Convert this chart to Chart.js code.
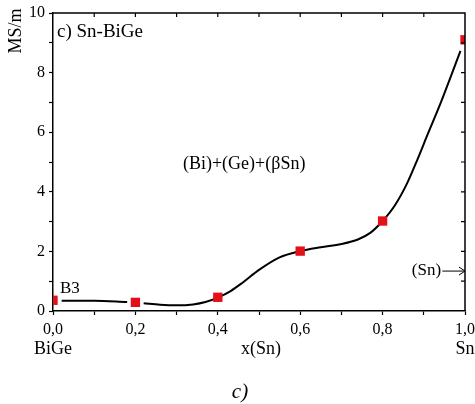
<!DOCTYPE html>
<html>
<head>
<meta charset="utf-8">
<script src="https://cdn.jsdelivr.net/npm/chart.js@4.4.1/dist/chart.umd.min.js"></script>
<style>
  html, body { margin: 0; padding: 0; background: #fff; }
  #wrap { width: 475px; height: 404px; position: relative; }
</style>
</head>
<body>
<div id="wrap"><canvas id="c"></canvas></div>
<script>
// измерени точки (червени маркери)
const markX = [0.0, 0.2, 0.4, 0.6, 0.8, 1.0];
const markY = [0.36, 0.29, 0.46, 2.01, 3.02, 9.1];

// плавната крива, отчетена от картинката (null = прекъсване при маркера)
const curveX = [0.021, 0.1, 0.18, 0.2, 0.22, 0.26, 0.30, 0.34, 0.37, 0.40, 0.43, 0.46, 0.50, 0.55, 0.60, 0.65, 0.70, 0.74, 0.77, 0.80, 0.83, 0.86, 0.885, 0.91, 0.94, 0.965, 0.989];
const curveY = [0.34, 0.34, 0.30, null, 0.26, 0.21, 0.19, 0.22, 0.30, 0.45, 0.66, 0.95, 1.38, 1.80, 2.01, 2.14, 2.25, 2.40, 2.62, 3.02, 3.55, 4.30, 5.10, 5.95, 6.95, 7.85, 8.73];

const xTicks = [0, 0.2, 0.4, 0.6, 0.8, 1.0];
const yTicks = [0, 2, 4, 6, 8, 10];

const SERIF = '"Liberation Serif", "Times New Roman", serif';

const fmt = v => v.toFixed(1).replace('.', ',');
const isMajor = (v, list) => list.some(t => Math.abs(t - v) < 1e-6);

// огледални чертички отгоре/отдясно + рамка + надписи
const extras = {
  id: 'extras',
  afterDraw(chart) {
    const { ctx, chartArea: a, scales: { x, y } } = chart;
    ctx.save();
    ctx.strokeStyle = '#000';
    ctx.lineWidth = 1.5;
    ctx.beginPath();
    ctx.moveTo(a.left, a.top); ctx.lineTo(a.right, a.top); ctx.lineTo(a.right, a.bottom);
    ctx.stroke();

    ctx.lineWidth = 1.2;
    ctx.beginPath();
    for (let i = 1; i < 10; i++) {
      const px = x.getPixelForValue(i / 10);
      ctx.moveTo(px, a.top); ctx.lineTo(px, a.top + 4);
      const py = y.getPixelForValue(i);
      ctx.moveTo(a.right, py); ctx.lineTo(a.right - 4, py);
    }
    ctx.stroke();

    ctx.fillStyle = '#000';
    ctx.textBaseline = 'alphabetic';
    ctx.font = '19px ' + SERIF;

    ctx.textAlign = 'left';
    ctx.fillText('c) Sn-BiGe', a.left + 4, a.top + 24);

    ctx.font = '18px ' + SERIF;
    ctx.textAlign = 'center';
    ctx.fillText('(Bi)+(Ge)+(βSn)', x.getPixelForValue(0.464), y.getPixelForValue(4.77));

    ctx.font = '17px ' + SERIF;
    ctx.textAlign = 'left';
    ctx.fillText('B3', x.getPixelForValue(0.017), y.getPixelForValue(0.6));

    ctx.textAlign = 'right';
    ctx.fillText('(Sn)', x.getPixelForValue(0.942), y.getPixelForValue(1.21));

    // стрелка към дясната ос
    const ay = y.getPixelForValue(1.34);
    const ax0 = x.getPixelForValue(0.945), ax1 = a.right;
    ctx.lineWidth = 1;
    ctx.beginPath();
    ctx.moveTo(ax0, ay); ctx.lineTo(ax1, ay);
    ctx.moveTo(ax1 - 6, ay - 4); ctx.lineTo(ax1, ay); ctx.lineTo(ax1 - 6, ay + 4);
    ctx.stroke();

    ctx.font = '18px ' + SERIF;
    ctx.textAlign = 'center';
    ctx.fillText('x(Sn)', 261, 354);
    ctx.fillText('BiGe', x.getPixelForValue(0), 354);
    ctx.fillText('Sn', x.getPixelForValue(1), 354);

    ctx.font = 'italic 21px ' + SERIF;
    ctx.fillText('c)', 240, 398);

    // заглавие на оста Y, завъртяно
    ctx.translate(16, 31);
    ctx.rotate(-Math.PI / 2);
    ctx.font = '18px ' + SERIF;
    ctx.textBaseline = 'middle';
    ctx.fillText('MS/m', 0, 0);
    ctx.restore();
  }
};

new Chart(document.getElementById('c'), {
  type: 'line',
  data: {
    datasets: [{
      data: markX.map((v, i) => ({ x: v, y: markY[i] })),
      showLine: false,
      pointStyle: 'rect',
      pointRadius: 6.6,
      pointHoverRadius: 6.6,
      pointBackgroundColor: '#e3101a',
      pointBorderColor: '#e3101a',
      pointBorderWidth: 0,
      clip: 0,
      order: 0
    }, {
      data: curveX.map((v, i) => ({ x: v, y: curveY[i] })),
      borderColor: '#000',
      borderWidth: 2,
      pointRadius: 0,
      cubicInterpolationMode: 'monotone',
      spanGaps: false,
      order: 1
    }]
  },
  options: {
    responsive: true,
    maintainAspectRatio: false,
    animation: false,
    layout: { padding: { top: 13, right: 10, left: 0, bottom: 0 } },
    plugins: { legend: { display: false }, tooltip: { enabled: false } },
    scales: {
      x: {
        type: 'linear', min: 0, max: 1,
        afterFit: s => { s.height = 93; s.paddingLeft = 0; s.paddingRight = 0; },
        border: { color: '#000', width: 1.5 },
        grid: { drawOnChartArea: false, tickLength: 4, tickColor: '#000', tickWidth: 1.2 },
        ticks: {
          stepSize: 0.1, autoSkip: false, maxRotation: 0, padding: 5,
          color: '#000', font: { family: SERIF, size: 16 },
          callback: v => isMajor(v, xTicks) ? fmt(v) : ''
        }
      },
      y: {
        type: 'linear', min: 0, max: 10,
        afterFit: s => { s.width = 53; s.paddingTop = 0; s.paddingBottom = 0; },
        border: { color: '#000', width: 1.5 },
        grid: { drawOnChartArea: false, tickLength: 4, tickColor: '#000', tickWidth: 1.2 },
        ticks: {
          stepSize: 1, autoSkip: false, padding: 4,
          color: '#000', font: { family: SERIF, size: 16 },
          callback: v => isMajor(v, yTicks) ? String(v) : ''
        }
      }
    }
  },
  plugins: [extras]
});
</script>
</body>
</html>
